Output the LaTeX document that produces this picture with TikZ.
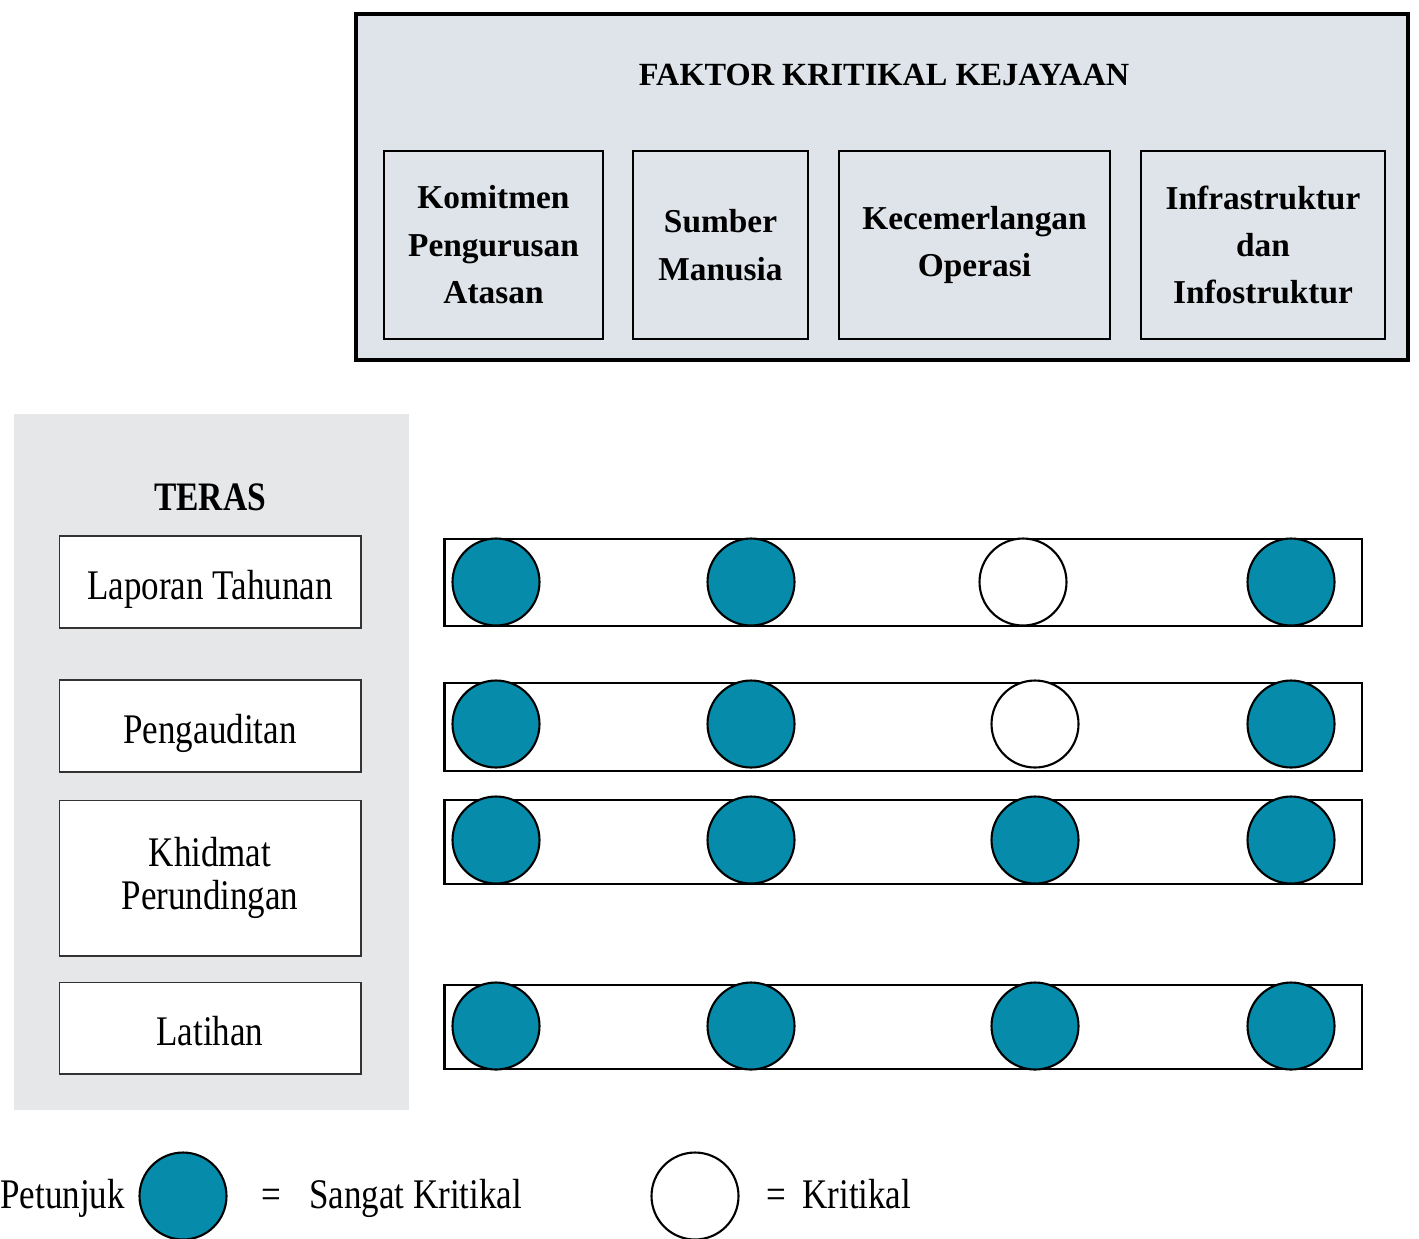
\documentclass[tikz,border=0pt]{standalone}
\usepackage{fontspec}
\setmainfont{Liberation Serif}
\newfontfamily\narrowfont[FakeStretch=0.83]{Liberation Serif}
\usetikzlibrary{positioning}

\definecolor{kritblue}{RGB}{6,140,170}
\definecolor{faktorgray}{RGB}{223,228,234}
\definecolor{terasgray}{RGB}{230,231,233}

\tikzstyle{faktor}=[draw,line width=1.2pt,fill=faktorgray,align=center,inner sep=0pt,minimum height=3.76cm,font=\bfseries\fontsize{19}{27}\selectfont]
\tikzstyle{teras}=[draw=black!80,line width=0.6pt,fill=white,align=center,inner sep=0pt,minimum width=6.04cm,font=\narrowfont\fontsize{24}{24.5}\selectfont]
\tikzstyle{oneline}=[text height=25pt,text depth=5pt]
\tikzstyle{bar}=[draw,line width=1.6pt,minimum width=18.36cm,inner sep=0pt]
\tikzstyle{sangat}=[circle,draw,line width=1.2pt,fill=kritblue,minimum size=1.74cm,inner sep=0pt]
\tikzstyle{kritikal}=[circle,draw,line width=1.2pt,fill=white,minimum size=1.74cm,inner sep=0pt]
\tikzstyle{legend}=[font=\narrowfont\fontsize{24}{24}\selectfont,inner sep=0pt,text height=1.5ex,text depth=0.4ex]

\begin{document}
\begin{tikzpicture}[x=0.02cm,y=-0.02cm]
  \useasboundingbox (0,0) rectangle (1419,1238);

  % faktor kritikal
  \node (panel) [draw,line width=2pt,fill=faktorgray,minimum width=21.04cm,minimum height=6.92cm] at (882,187) {};
  \node (title) [font=\bfseries\fontsize{18.4}{22}\selectfont] at (884,75) {FAKTOR KRITIKAL KEJAYAAN};
  \node (kom) [faktor,minimum width=4.38cm] at (493.5,245) {Komitmen\\Pengurusan\\Atasan};
  \node (sum) [faktor,minimum width=3.5cm] at (720.5,245) {Sumber\\Manusia};
  \node (kec) [faktor,minimum width=5.42cm] at (974.5,245) {Kecemerlangan\\Operasi};
  \node (inf) [faktor,minimum width=4.88cm] at (1263,245) {Infrastruktur\\dan\\Infostruktur};

  % teras
  \node (side) [fill=terasgray,minimum width=7.9cm,minimum height=13.92cm,inner sep=0pt] at (211.5,762) {};
  \node (teras) [font=\narrowfont\bfseries\fontsize{23}{23}\selectfont] at (210,497) {TERAS};
  \node (lap) [teras,oneline,minimum height=1.84cm] at (210,582) {Laporan Tahunan};
  \node (aud) [teras,oneline,minimum height=1.84cm] at (210,726) {Pengauditan};
  \node (khi) [teras,minimum height=3.12cm] at (210,878) {Khidmat\\Perundingan};
  \node (lat) [teras,oneline,minimum height=1.84cm] at (210,1028) {Latihan};

  % rows
  \node (lapbar) [bar,minimum height=1.74cm] at (903,582.5) {};
  \node (audbar) [bar,minimum height=1.76cm] at (903,727) {};
  \node (khibar) [bar,minimum height=1.68cm] at (903,842) {};
  \node (latbar) [bar,minimum height=1.68cm] at (903,1027) {};

  \node (lap1) [sangat] at (496,582) {};
  \node (lap2) [sangat] at (751,582) {};
  \node (lap3) [kritikal] at (1023,582) {};
  \node (lap4) [sangat] at (1291,582) {};

  \node (aud1) [sangat] at (496,724) {};
  \node (aud2) [sangat] at (751,724) {};
  \node (aud3) [kritikal] at (1035,724) {};
  \node (aud4) [sangat] at (1291,724) {};

  \node (khi1) [sangat] at (496,840) {};
  \node (khi2) [sangat] at (751,840) {};
  \node (khi3) [sangat] at (1035,840) {};
  \node (khi4) [sangat] at (1291,840) {};

  \node (lat1) [sangat] at (496,1026) {};
  \node (lat2) [sangat] at (751,1026) {};
  \node (lat3) [sangat] at (1035,1026) {};
  \node (lat4) [sangat] at (1291,1026) {};

  % petunjuk
  \node (petunjuk) [legend,anchor=west] at (0,1204) {Petunjuk};
  \node (sangatkey) [sangat] at (183,1196) {};
  \node (eqa) [legend] at (271,1204) {=};
  \node (sangattext) [legend,anchor=west] at (309,1204) {Sangat Kritikal};
  \node (kritkey) [kritikal] at (695,1196) {};
  \node (eqb) [legend] at (776,1204) {=};
  \node (krittext) [legend,anchor=west] at (802,1204) {Kritikal};
\end{tikzpicture}
\end{document}
